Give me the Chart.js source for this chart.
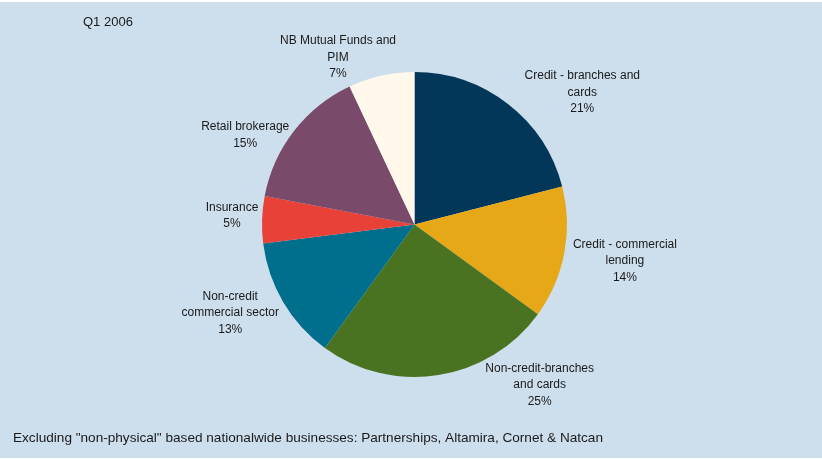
<!DOCTYPE html>
<html>
<head>
<meta charset="utf-8">
<script src="https://cdn.jsdelivr.net/npm/chart.js@4/dist/chart.umd.min.js"></script>
<style>
  html, body { margin: 0; padding: 0; background: #fff; }
</style>
</head>
<body>
<canvas id="mix" width="822" height="459"></canvas>
<script>
// Business mix by line, Q1 2006 (share of total, %)
const categories = [
  ["Credit - branches and", "cards"],
  ["Credit - commercial", "lending"],
  ["Non-credit-branches", "and cards"],
  ["Non-credit", "commercial sector"],
  ["Insurance"],
  ["Retail brokerage"],
  ["NB Mutual Funds and", "PIM"],
];
const shares = [21, 14, 25, 13, 5, 15, 7];
const sliceColors = ["#02375a", "#e6a817", "#4a7321", "#006f8e", "#e84238", "#7a4a6b", "#fff8eb"];
const periodLabel = "Q1 2006";
const footNote = 'Excluding "non-physical" based nationalwide businesses: Partnerships, Altamira, Cornet & Natcan';

// where each slice label sits: angle nudge off the slice middle (degrees), distance in radii
const labelPlace = [[14, 1.40], [-1, 1.40], [-29, 1.333], [5, 1.34], [1, 1.198], [-10, 1.255], [-12, 1.205]];

const FONT = '12px "Liberation Sans", Arial, sans-serif';
const LINE_H = 16.5;

const panel = {
  id: "panel",
  beforeDraw(chart) {
    const { ctx, width } = chart;
    ctx.save();
    ctx.fillStyle = "#cddeed";
    ctx.fillRect(0, 2, width, 456);
    ctx.restore();
  },
  afterDatasetsDraw(chart) {
    const { ctx } = chart;
    const arcs = chart.getDatasetMeta(0).data;
    ctx.save();
    ctx.font = FONT;
    ctx.fillStyle = "#1a1a1a";
    ctx.textAlign = "center";
    ctx.textBaseline = "middle";
    arcs.forEach((arc, i) => {
      const [nudge, dist] = labelPlace[i];
      const mid = (arc.startAngle + arc.endAngle) / 2 + nudge * Math.PI / 180;
      const cx = arc.x + Math.cos(mid) * arc.outerRadius * dist;
      const cy = arc.y + Math.sin(mid) * arc.outerRadius * dist;
      const lines = [...categories[i], shares[i] + "%"];
      const top = cy - (lines.length - 1) * LINE_H / 2;
      lines.forEach((t, j) => ctx.fillText(t, cx, top + j * LINE_H));
    });

    ctx.textAlign = "left";
    ctx.font = '13px "Liberation Sans", Arial, sans-serif';
    ctx.fillText(periodLabel, 83, 22);
    ctx.font = '13.6px "Liberation Sans", Arial, sans-serif';
    ctx.fillText(footNote, 13, 438);
    ctx.restore();
  },
};

new Chart(document.getElementById("mix"), {
  type: "pie",
  data: {
    labels: categories,
    datasets: [{ data: shares, backgroundColor: sliceColors, borderWidth: 0 }],
  },
  options: {
    responsive: false,
    animation: false,
    layout: { padding: { left: 262, right: 255, top: 72, bottom: 82 } },
    plugins: { legend: { display: false }, tooltip: { enabled: false } },
  },
  plugins: [panel],
});
</script>
</body>
</html>
